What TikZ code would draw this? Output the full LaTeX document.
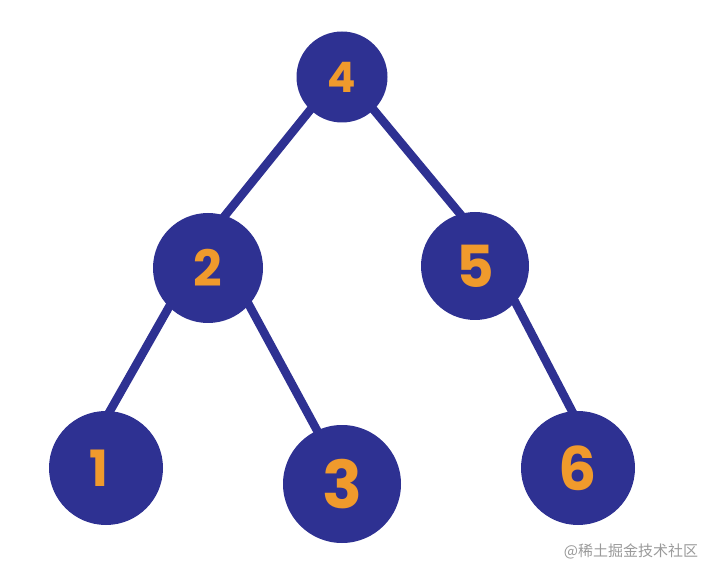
\documentclass[tikz,border=0pt]{standalone}
\usepackage{fontspec}
\setmainfont{Poppins}
\newfontfamily\cjk{Noto Sans CJK SC}
\usetikzlibrary{backgrounds}
\definecolor{treeblue}{HTML}{2E3192}
\definecolor{digitorange}{HTML}{F09A2C}
\definecolor{markgray}{HTML}{9A9A9A}
\tikzset{
  treenode/.style={circle, fill=treeblue, inner sep=0pt, text=digitorange},
  treeedge/.style={draw=treeblue, line width=8.5pt, shorten <=-6pt, shorten >=-6pt}
}
\begin{document}
\begin{tikzpicture}[x=1pt,y=-1pt]
\useasboundingbox (0,0) rectangle (715,577);
\node[treenode, minimum size=91pt, font=\bfseries\fontsize{42}{42}\selectfont] (n4) at (342,77) {4};
\node[treenode, minimum size=110pt, font=\bfseries\fontsize{50}{50}\selectfont] (n2) at (208,268) {2};
\node[treenode, minimum size=108pt, font=\bfseries\fontsize{58}{58}\selectfont] (n5) at (475,266) {5};
\node[treenode, minimum size=114pt, font=\bfseries\fontsize{50}{50}\selectfont] (n1) at (106,468) {\hspace*{-14pt}1};
\node[treenode, minimum size=118pt, font=\bfseries\fontsize{66}{66}\selectfont] (n3) at (342,484) {3};
\node[treenode, minimum size=114pt, font=\bfseries\fontsize{60}{60}\selectfont] (n6) at (578,468) {6};
\begin{scope}[on background layer]
\draw[treeedge] (n4.226) -- (n2.72);
\draw[treeedge] (n4.314) -- (n5.106);
\draw[treeedge] (n2.225) -- (n1.86);
\draw[treeedge] (n2.318) -- (n3.115);
\draw[treeedge] (n5.318) -- (n6.96);
\end{scope}
\node[text=markgray, font=\cjk\fontsize{15}{15}\selectfont, inner sep=0pt] (wm) at (631,551) {@稀土掘金技术社区};
\end{tikzpicture}
\end{document}
